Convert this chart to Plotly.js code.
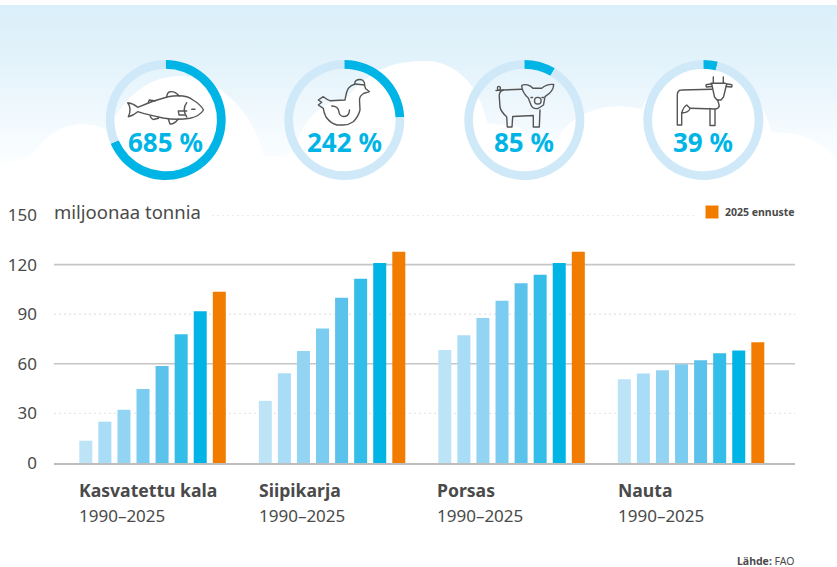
<!DOCTYPE html>
<html><head><meta charset="utf-8">
<script src="https://cdn.plot.ly/plotly-3.0.1.min.js"></script>
<style>html,body{margin:0;padding:0;background:#fff}#c{width:837px;height:567px}</style>
</head><body><div id="c"></div>
<script>
const categories = ["Kasvatettu kala", "Siipikarja", "Porsas", "Nauta"];
const years = [1990, 1995, 2000, 2005, 2010, 2015, 2020, 2025];
const kala = [13.5, 25, 32.2, 44.7, 58.6, 77.9, 91.8, 103.6];
const siipikarja = [37.6, 54.3, 67.8, 81.3, 100, 111.5, 120.9, 127.8];
const porsas = [68.4, 77.3, 87.7, 98.2, 108.7, 113.9, 120.9, 127.8];
const nauta = [50.7, 54.1, 56.1, 59.8, 62.2, 66.4, 68, 73];
const yearColors = ["#bce4f6", "#a9dcf6", "#93d4f3", "#7acdf0", "#5bc3eb", "#33bde9", "#00b5e6", "#f27c00"];
const growthPercent = [685, 242, 85, 39];
const yTicks = [0, 30, 60, 90, 120, 150];
const periodLabel = "1990–2025";

const W = 837, H = 567, FONT = "'Noto Sans', Roboto, sans-serif", INK = "#4a4a4a", CYAN = "#00b5e6";
const px = x => x / W, py = y => 1 - y / H;
const byCategory = [kala, siipikarja, porsas, nauta];

const bars = years.map((yr, i) => ({
  type: "bar", name: String(yr), x: categories, y: byCategory.map(s => s[i]),
  marker: {color: yearColors[i], line: {width: 0}}, hoverinfo: "skip", showlegend: false
}));

const ringCx = [165.7, 344.3, 524.3, 703.3];
const rings = growthPercent.map((p, i) => ({
  type: "pie", values: [p / 10, 100 - p / 10], sort: false, direction: "clockwise", rotation: 0,
  hole: 0.855, textinfo: "none", hoverinfo: "skip", showlegend: false,
  marker: {colors: [CYAN, "#cfe9f9"], line: {width: 0}},
  domain: {x: [px(ringCx[i] - 60), px(ringCx[i] + 60)], y: [py(180), py(60)]}
}));

const clouds = "M0,172 L0,165 C10,161 24,161 32,155 C45,135 65,124 82,124 C90,124 100,126 108,130 C125,95 150,76 180,76 C220,76 255,115 263,155 C275,158 287,157 296,150 C298,125 322,100 345,99 C358,85 372,72 385,68 C395,63 410,61 425,61 C455,61 480,85 487,123 L520,127 L545,160 C555,140 565,122 585,114 C600,106 620,104 642,109 C650,85 675,64 703,64 C735,64 757,85 772,133 C790,131 810,135 825,148 L837,160 L837,185 L0,185 Z";
const bgSvg = `<svg xmlns="http://www.w3.org/2000/svg" width="${W}" height="${H}" viewBox="0 0 ${W} ${H}"><defs><linearGradient id="g" x1="0" y1="5" x2="0" y2="178" gradientUnits="userSpaceOnUse"><stop offset="0" stop-color="#daeffa"/><stop offset="0.35" stop-color="#e4f3fb"/><stop offset="0.7" stop-color="#f3fafe"/><stop offset="1" stop-color="#ffffff"/></linearGradient></defs><rect y="5" width="${W}" height="175" fill="url(#g)"/><path d="${clouds}" fill="#fff"/></svg>`;

const iconPaths = [
 // fish
 "M127.7,102.7 C131,103 135,105 137.7,107.3 C145,104 155,100 168,96.7 C178,95 187,95 193,100 C198,103 202,107 203.5,110 C201,114 196,117 190,118.3 C182,119.5 172,119.5 163,118 C153,116 145,114 137.7,111.7 C135,114 132,116 128.3,116.7 C130,113 131,107 127.7,102.7 Z",
 "M166.7,96.9 C167,94 168,92 170,91.7 C174,91 178,94 179.3,96.2",
 "M148.3,102.2 L149.3,100 L154,100.7 L155,101",
 "M150,115.8 C151,118 152,119.5 153.5,119.5 L158.5,118.3 L158.3,117",
 "M168.3,119 L170,124 C173,124.3 176,122 178.3,119",
 "M186.7,102.7 C183.5,107 183.5,112 186.7,117",
 "M178.3,111 L186.7,111 M178.3,111 L179,115 L185,115",
 "M191.7,109.3 L195,109.3",
 // hen
 "M318.3,100 L323.3,96.7 C325,98 328,100 330,100.7 L345,100 C346,95 346,92 348.3,88.3 C350,86 352,85 355,84 C354,81 357,79.5 360,79.5 C363,79.5 365,82 364.5,85 L365.5,88.5 L369.5,91.7 L363.5,93.5 C361,95 359.5,97 359.5,100 L360,110 C358.5,116 356,119 353.3,121.7 C350,124 347,125 343.3,125 L337,125 C332,124 329,121 326,117 C324,113 323.5,110 323.3,108.3 L318.3,105 L321.7,102.3 Z",
 "M331.7,106 C336,106 338.5,108 339,112 C339.5,117.5 347,118 349,113 L349.5,110",
 "M355,84 L364.5,85",
 // pig
 "M496,90.5 L503.3,90 L521.7,89.3 M498,90 C496.5,87 498.5,85.5 500,87 C501,88 500,90 498.5,90.5",
 "M521.7,85.5 C525,83.5 530,85 533,88.3 L541.7,88.3 C545,85.5 550,84 553.7,84.5 C553.7,89 551,93 545,96.7 L543.5,105 L538,108.5 C535,109 532,107.5 531,105 L528.3,98 C526,96 522,91 521.7,85.5 Z",
 "M503.3,90 C500,91 499,94 499.3,97 L500,107 C501,112 504,114.5 506.7,116.7 L507.3,127 L512,127 L512.7,116.5 L533.3,115.5 L533.3,127 L539.3,127 L540,110",
 "M534.5,100.7 a3.3,3.3 0 1,0 6.6,0 a3.3,3.3 0 1,0 -6.6,0",
 "M531,97.5 L532.5,97.5 M542,97.5 L543.5,97.5",
 // cow
 "M677.3,125 L677.3,95 C677.3,92 679,90 681.7,90 L712,89.3 M681.7,125 L681.7,113 M677.3,125 L681.7,125",
 "M713.3,77 L713.3,83.3 M723.3,77 L723.3,83.3 M711,83.3 L725.5,83.3",
 "M712,86.5 L706.5,87 C705.5,85.5 706,84.5 707,84.5 L711.5,84 M726,86.5 L731.5,87 C732.5,85.5 732,84.5 731,84.5 L726.5,84",
 "M711.7,84 L714.5,97 L717,100 L721,100 L723.5,97 L726.7,84",
 "M717.7,100 L719.3,106 C718.5,108.5 716.5,109 715,109 M715,109 L690.5,108.3 M710,108.5 L710,125.5 L715,125.5 L715,109",
 "M681.7,113 C683,108 685,106 686.7,105 L690,108.3 C690,111 686,113 681.7,113 Z"
];
const iconSvg = `<svg xmlns="http://www.w3.org/2000/svg" width="${W}" height="${H}" viewBox="0 0 ${W} ${H}"><g fill="none" stroke="#555" stroke-width="1.4" stroke-linejoin="round" stroke-linecap="round">${iconPaths.map(d => `<path d="${d}"/>`).join("")}</g></svg>`;
const uri = s => "data:image/svg+xml;charset=utf-8," + encodeURIComponent(s);
const fullImg = (s, layer) => ({source: uri(s), xref: "paper", yref: "paper", x: 0, y: 1, sizex: 1, sizey: 1,
  xanchor: "left", yanchor: "top", sizing: "stretch", layer});

const note = (text, x, y, size, color, anchor, extra) => Object.assign({
  text, xref: "paper", yref: "paper", x: px(x), y: py(y), xanchor: anchor || "left", yanchor: "middle",
  showarrow: false, borderpad: 0, borderwidth: 0, font: {family: FONT, size, color}}, extra || {});

const labelX = [79, 259, 437, 618];
const annotations = [note("miljoonaa tonnia", 54, 211, 18.5, INK),
  note("<b>2025 ennuste</b>", 795, 212.5, 10.5, INK, "right"),
  note("<b>Lähde:</b> FAO", 795, 560.5, 10.5, INK, "right")];
categories.forEach((c, i) => {
  annotations.push(note(`<b>${c}</b>`, labelX[i], 490, 17.6, INK));
  annotations.push(note(periodLabel, labelX[i], 515, 17, INK));
});
growthPercent.forEach((p, i) => annotations.push(note(`<b>${p} %</b>`, ringCx[i], 142, 26, CYAN, "center")));

const gridLine = (v, x1, solid) => ({type: "line", layer: "below", xref: "paper", yref: "y",
  x0: px(54), x1: px(x1), y0: v, y1: v,
  line: solid ? {color: "#c6c6c6", width: 1.6} : {color: "#e6e6e6", width: 1.4, dash: "2px,3px"}});
const shapes = [
  gridLine(30, 795, false), gridLine(60, 795, true), gridLine(90, 795, false), gridLine(120, 795, true),
  Object.assign(gridLine(150, 695, false), {x0: px(212)}),
  {type: "rect", layer: "above", xref: "paper", yref: "paper", x0: px(705.5), x1: px(718.5), y0: py(218.5), y1: py(205.5),
   fillcolor: "#f27c00", line: {width: 0}}
];

const layout = {
  width: W, height: H, margin: {l: 0, r: 0, t: 0, b: 0, pad: 0},
  paper_bgcolor: "#fff", plot_bgcolor: "rgba(0,0,0,0)",
  barmode: "group", bargap: 0.15, bargroupgap: 0.318,
  xaxis: {type: "category", domain: [px(54), px(795)], range: [-0.549, 3.579], showticklabels: false, ticks: "",
    showgrid: false, zeroline: false, showline: true, linecolor: "#bdbdbd", linewidth: 1.5, fixedrange: true},
  yaxis: {domain: [py(463), py(215)], range: [0, 150], tickvals: yTicks, ticktext: yTicks.map(String), ticks: "",
    ticklen: 0, ticklabelstandoff: 16, showgrid: false, zeroline: false, showline: false, fixedrange: true,
    tickfont: {family: FONT, size: 17, color: INK}},
  shapes, annotations,
  images: [fullImg(bgSvg, "below"), fullImg(iconSvg, "above")],
  hovermode: false, showlegend: false
};
Plotly.newPlot("c", bars.concat(rings), layout, {displayModeBar: false, staticPlot: true});
</script></body></html>
